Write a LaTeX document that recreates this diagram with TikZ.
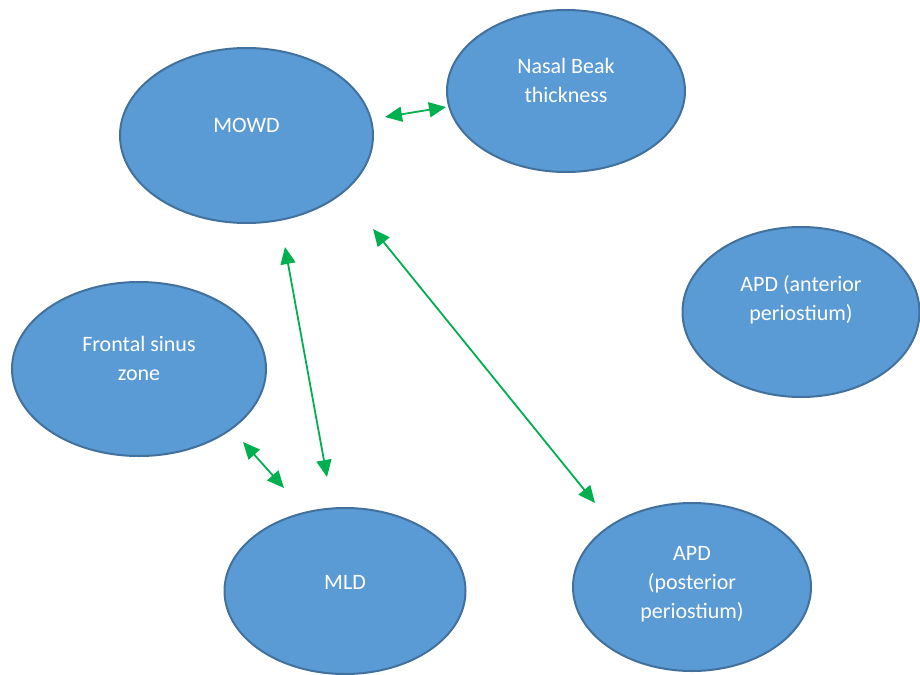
\documentclass[tikz,border=0pt]{standalone}
\usepackage{fontspec}
\setmainfont{Carlito}
\usetikzlibrary{shapes.geometric,arrows.meta}

\definecolor{blobfill}{HTML}{5B9BD5}
\definecolor{blobline}{HTML}{41719C}
\definecolor{linkgreen}{HTML}{00B050}

\tikzset{
	blob/.style={ellipse, draw=blobline, fill=blobfill, line width=2pt, inner sep=0pt},
	blobtext/.style={text=white, align=center, font=\fontsize{22}{29}\selectfont},
	link/.style={draw=linkgreen, line width=1.8pt, {Triangle[length=17pt,width=15pt]}-{Triangle[length=17pt,width=15pt]}}
}

\begin{document}
\begin{tikzpicture}[x=1pt,y=-1pt]

	\useasboundingbox (0,0) rectangle (920,674);

	\node[blob, minimum width=253pt, minimum height=175pt] (mowd) at (246.5,135.5) {};
	\node[blobtext] (mowdt) at (246.5,125) {MOWD};

	\node[blob, minimum width=238pt, minimum height=162pt] (beak) at (566,91) {};
	\node[blobtext] (beakt) at (566,80) {Nasal Beak\\thickness};

	\node[blob, minimum width=237pt, minimum height=170pt] (apda) at (801,312) {};
	\node[blobtext] (apdat) at (801,300) {APD (anterior\\periostium)};

	\node[blob, minimum width=254pt, minimum height=174pt] (sinus) at (139,369) {};
	\node[blobtext] (sinust) at (139,358) {Frontal sinus\\zone};

	\node[blob, minimum width=241pt, minimum height=166pt] (mld) at (345,591) {};
	\node[blobtext] (mldt) at (345,582) {MLD};

	\node[blob, minimum width=238pt, minimum height=168pt] (apdp) at (692,587) {};
	\node[blobtext] (apdpt) at (692,584) {APD\\(posterior\\periostium)};

	\coordinate (mowd-e) at (385,117);
	\coordinate (beak-w) at (446,107);
	\coordinate (mowd-s) at (285,247);
	\coordinate (mld-n) at (327,477);
	\coordinate (mowd-se) at (373,229);
	\coordinate (apdp-nw) at (595,503);
	\coordinate (sinus-se) at (243,442);
	\coordinate (mld-nw) at (284,488);

	\draw[link] (mowd-e) -- (beak-w);
	\draw[link] (mowd-s) -- (mld-n);
	\draw[link] (mowd-se) -- (apdp-nw);
	\draw[link] (sinus-se) -- (mld-nw);

\end{tikzpicture}
\end{document}
